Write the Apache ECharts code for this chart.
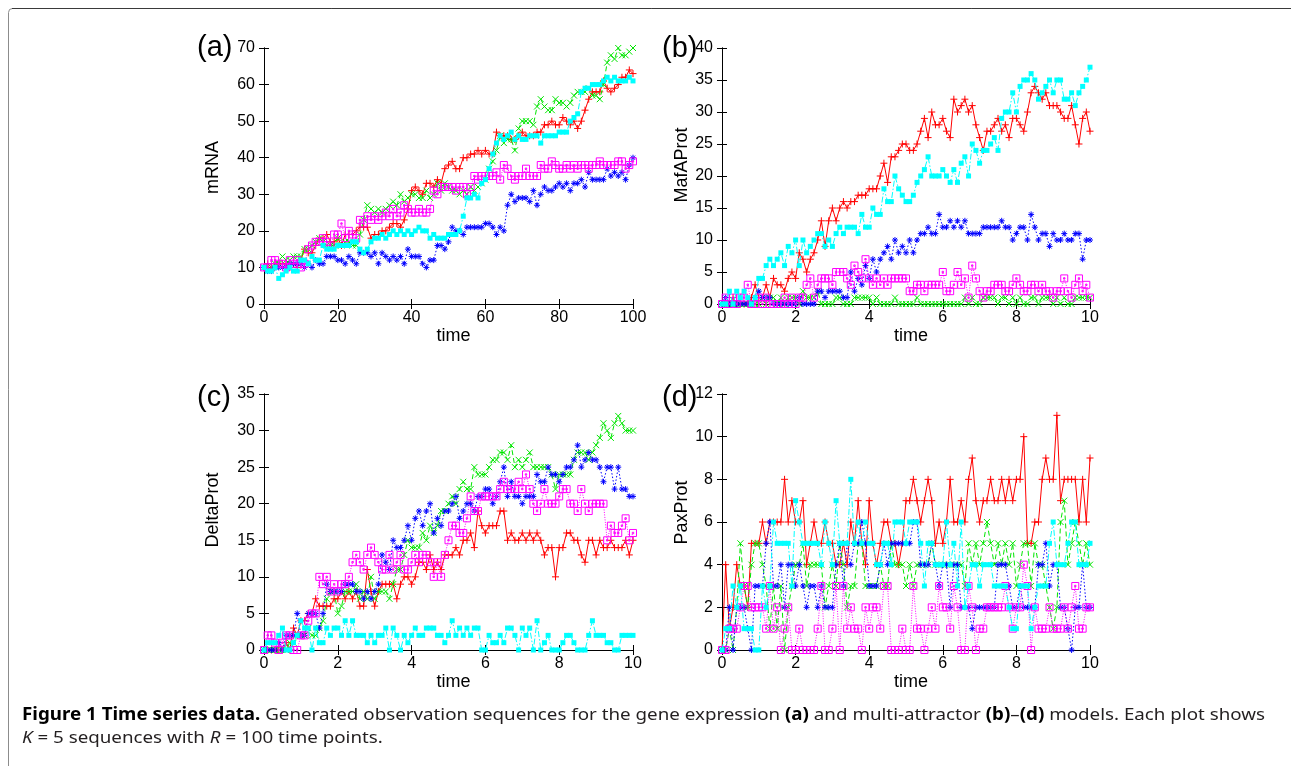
<!DOCTYPE html>
<html><head><meta charset="utf-8">
<script src="https://cdn.jsdelivr.net/npm/echarts@6/dist/echarts.min.js"></script>
<style>html,body{margin:0;padding:0;background:#fff}#c{width:1291px;height:766px}</style>
</head><body><div id="c"></div>
<script>
// ---------- data ----------
const panelLabels = ['(a)', '(b)', '(c)', '(d)'];
const yNames = ['mRNA', 'MafAProt', 'DeltaProt', 'PaxProt'];
const xName = 'time';
const xMax = [100, 10, 10, 10];
const xInterval = [20, 2, 2, 2];
const xStep = [1, 0.1, 0.1, 0.1];
const yMax = [70, 40, 35, 12];
const yInterval = [10, 5, 5, 2];

// panel (a) mRNA
const aRed = [10,11,10,11,11,11,11,10,11,10, 12,15,14,14,16,18,18,19,17,17, 18,16,19,19,19,20,21,21,21,18, 19,19,20,20,21,22,22,21,23,26, 31,32,31,30,33,33,32,34,33,37, 38,39,37,37,40,40,41,41,42,41, 42,41,41,47,46,46,46,45,45,46, 47,46,46,46,47,47,49,49,50,49, 49,51,50,49,50,48,50,53,56,58, 58,58,61,59,58,59,60,62,62,64, 63];
const aGreen = [10,10,10,11,11,13,12,12,13,13, 13,15,15,16,17,18,17,16,16,16, 18,16,17,17,16,16,19,23,27,26, 25,26,25,26,27,28,27,30,28,29, 30,30,29,29,31,29,30,33,31,33, 32,31,31,30,31,30,32,31,32,33, 34,37,39,42,46,44,45,45,42,48, 50,50,50,49,54,56,54,53,53,56, 55,55,54,55,57,58,58,58,59,57, 57,56,60,66,68,67,70,68,68,69, 70];
const aBlue = [10,9,9,10,10,10,10,11,11,11, 11,10,11,10,12,11,11,13,13,13, 12,12,11,13,12,11,14,14,14,13, 14,11,14,13,12,13,12,13,11,15, 13,13,13,11,10,12,12,16,16,15, 17,21,20,20,19,21,21,21,21,21, 22,22,21,19,21,20,27,30,28,29, 29,29,28,31,27,30,32,31,31,32, 33,32,33,31,33,33,34,32,36,34, 34,34,34,37,35,36,35,36,34,38, 40];
const aMagenta = [10,10,12,12,11,11,10,12,11,12, 10,11,15,16,17,17,18,17,16,19, 19,22,18,20,19,18,23,22,24,23, 24,23,24,25,24,26,24,25,27,26, 25,25,26,25,25,26,31,30,32,32, 32,32,31,32,32,30,32,35,34,35, 35,35,35,36,34,38,37,35,34,35, 35,37,35,35,35,38,37,37,39,38, 37,37,38,37,38,37,38,38,37,38, 38,39,38,38,38,38,39,39,37,38, 39];
const aCyan = [10,9,9,10,7,8,9,10,9,9, 12,12,11,13,12,12,16,15,15,15, 16,16,16,16,17,17,15,14,15,17, 18,18,19,18,19,20,19,20,19,20, 19,20,21,20,20,18,19,18,18,18, 19,19,19,20,24,29,29,30,29,33, 34,37,41,44,46,45,46,47,45,46, 45,45,46,46,46,44,46,46,46,46, 47,47,47,50,51,52,58,59,59,60, 60,60,61,62,61,62,61,61,61,62, 61];

// panel (b) MafAProt
const bRed = [0,0,0,1,0,0,0,0,1,3, 1,1,3,1,4,3,3,2,4,5, 4,8,7,5,7,8,10,13,9,13, 15,13,15,16,15,16,16,17,17,17, 18,18,18,20,22,19,23,23,24,25, 25,24,24,25,27,29,26,30,28,28, 29,27,26,32,30,31,32,30,31,28, 26,24,27,27,28,29,27,28,26,29, 29,28,27,30,33,34,33,32,33,31, 31,31,30,29,29,31,28,25,29,30, 27];
const bGreen = [0,0,0,0,0,0,0,0,0,0, 0,1,0,1,1,0,1,0,1,1, 1,0,2,1,1,1,2,0,0,0, 0,1,1,0,0,0,1,1,1,1, 1,0,1,0,0,0,0,1,0,0, 0,0,0,1,0,0,0,0,0,0, 0,0,0,0,0,0,1,0,1,0, 0,1,1,1,1,0,1,1,0,1, 0,1,0,0,1,1,0,1,1,1, 0,1,0,1,0,0,1,1,1,1, 1];
const bBlue = [0,1,0,0,0,0,0,0,0,1, 2,1,1,1,0,0,0,0,0,0, 0,1,0,0,0,0,2,2,1,2, 2,2,2,1,1,5,2,4,3,6, 4,7,5,7,8,9,7,10,8,9, 8,10,8,10,11,11,12,11,11,14, 12,12,13,12,13,12,13,11,11,11, 11,12,12,12,12,12,13,12,12,10, 11,12,12,10,14,12,10,11,11,9, 11,10,10,11,10,10,11,11,7,10, 10];
const bMagenta = [0,1,0,1,0,1,1,3,0,0, 1,0,1,0,0,0,0,1,0,1, 0,1,1,3,4,1,3,4,4,4, 3,5,5,5,4,3,6,5,4,7, 4,3,4,3,4,3,4,4,4,4, 4,2,2,3,3,2,3,3,3,3, 5,2,2,3,5,3,4,1,6,4, 2,1,2,2,3,3,3,2,2,3, 4,3,2,2,3,3,2,3,2,2, 1,2,2,4,2,1,3,4,2,3, 1];
const bCyan = [0,0,2,0,2,1,2,1,0,1, 4,4,6,7,6,7,8,6,9,8, 10,6,10,8,9,10,11,11,9,10, 9,11,12,11,12,12,12,11,14,12, 12,15,14,14,18,16,16,20,18,17, 16,16,17,19,20,21,23,20,20,20, 21,20,19,21,19,22,23,20,25,24, 22,24,24,25,26,24,29,30,30,33, 30,34,35,35,36,35,32,33,34,35, 33,35,35,32,32,33,31,33,34,35, 37];

// panel (c) DeltaProt
const cRed = [0,0,0,0,0,0,1,0,3,2, 4,4,5,5,7,6,6,6,6,7, 7,8,7,8,7,8,6,6,11,8, 6,8,9,9,9,9,7,9,10,10, 9,10,12,12,11,13,11,12,11,13, 13,13,14,13,15,15,16,14,19,17, 16,17,17,17,19,19,15,16,15,15, 16,15,16,15,16,15,13,14,14,10, 14,14,16,16,15,15,13,12,15,15, 13,15,14,14,15,14,14,14,15,13, 15];
const cGreen = [0,0,0,0,0,0,0,1,1,2, 2,2,3,2,2,3,4,7,8,8, 5,6,8,8,8,9,7,8,7,10, 7,8,8,8,7,9,11,11,13,15, 14,14,14,16,15,17,16,17,19,19, 20,21,20,22,23,22,22,25,24,24, 24,25,26,26,27,27,26,28,25,26, 25,26,27,25,25,25,25,25,24,22, 24,24,24,24,26,27,27,27,26,27, 28,29,31,30,29,31,32,31,30,30, 30];
const cBlue = [0,0,0,0,1,0,2,2,2,5, 2,2,5,5,5,3,5,9,8,8, 8,8,9,9,9,8,8,7,8,7, 8,9,13,12,11,15,14,14,15,17, 15,18,19,17,19,20,16,18,17,19, 19,20,21,18,19,20,20,19,21,21, 22,22,20,21,23,25,21,23,21,21, 20,21,21,21,24,23,23,25,24,24, 23,24,25,25,26,28,25,26,27,26, 26,25,23,25,25,22,25,22,22,21, 21];
const cMagenta = [0,2,2,1,0,1,2,2,0,0, 2,2,4,5,5,10,9,10,8,9, 8,9,9,10,12,13,12,11,13,14, 13,12,11,11,13,11,12,13,11,11, 12,13,12,13,13,12,10,12,10,13, 15,17,17,16,16,18,21,19,19,21, 21,21,21,21,22,23,22,22,22,23, 22,24,22,20,19,20,22,20,20,20, 21,22,22,20,20,19,22,20,19,20, 20,20,20,15,17,16,16,17,18,15, 16];
const cCyan = [0,1,1,1,2,3,0,0,1,2, 4,3,3,0,3,1,1,3,2,3, 3,2,4,2,4,2,2,2,1,2, 1,2,2,3,0,3,2,0,2,1, 2,3,2,2,3,3,3,2,2,1, 2,4,2,3,2,3,2,3,3,0, 0,2,1,1,2,1,3,3,2,0, 3,2,3,0,4,0,1,2,0,0, 0,1,2,2,1,0,0,0,2,4, 2,2,2,1,1,0,0,2,2,2, 2];

// panel (d) PaxProt
const dRed = [0,4,1,2,4,3,3,2,5,5, 5,6,5,6,6,6,6,8,6,7, 6,6,7,4,5,6,5,5,6,5, 5,4,4,5,4,6,5,7,5,4, 7,5,4,5,6,6,5,5,4,5, 7,7,8,7,6,7,8,7,5,6, 5,6,8,6,6,7,6,8,9,7, 6,7,7,8,7,7,8,7,8,7, 8,8,10,5,5,6,6,8,9,8, 8,11,7,8,8,8,8,6,8,6, 9];
const dGreen = [0,0,1,0,2,5,3,2,4,5, 5,4,3,1,3,1,3,0,2,3, 4,4,5,3,4,4,4,4,2,3, 4,3,5,4,2,3,3,5,5,3, 3,3,3,4,3,3,5,4,4,4, 3,4,3,4,4,4,4,5,4,4, 4,4,4,4,4,4,3,5,4,5, 4,5,6,5,4,5,4,5,4,5, 3,4,5,5,3,5,4,4,3,2, 1,2,6,7,4,5,6,5,4,5, 4];
const dBlue = [0,0,2,0,2,2,2,1,0,3, 3,3,5,6,3,3,4,2,4,4, 3,4,3,2,3,3,2,3,2,2, 2,4,5,3,5,4,5,5,6,5, 3,3,3,4,5,4,5,5,5,5, 5,5,6,6,4,4,4,5,4,3, 4,4,2,4,4,2,2,2,1,2, 2,2,2,2,2,4,4,4,3,2, 2,3,2,2,2,2,4,4,5,3, 4,4,2,2,1,0,2,2,4,2, 2];
const dMagenta = [0,0,1,1,1,2,3,3,2,2, 2,2,1,3,1,2,0,1,2,0, 0,1,0,0,0,0,1,3,0,0, 1,3,0,3,1,2,1,1,0,2, 1,2,2,1,3,3,0,0,0,1, 0,0,3,1,1,0,1,2,1,3, 2,2,1,3,2,0,0,3,2,0, 1,1,2,2,2,2,2,3,2,1, 2,2,4,3,0,2,1,1,1,2, 1,1,1,2,1,2,3,1,1,2, 2];
const dCyan = [0,1,1,3,2,3,1,1,1,0, 0,3,2,3,6,5,5,5,5,3, 7,6,5,5,5,5,5,4,6,5, 4,7,5,5,5,8,5,6,5,6, 5,5,4,4,5,5,4,6,6,6, 5,6,6,6,5,3,5,5,4,4, 4,6,4,5,3,6,2,3,4,4, 3,4,4,4,3,3,3,3,2,1, 1,3,3,3,1,2,3,3,3,5, 6,4,4,4,5,6,6,4,4,4, 5];

const panels = [
  [aRed, aGreen, aBlue, aMagenta, aCyan],
  [bRed, bGreen, bBlue, bMagenta, bCyan],
  [cRed, cGreen, cBlue, cMagenta, cCyan],
  [dRed, dGreen, dBlue, dMagenta, dCyan]
];

// ---------- styling / layout ----------
const FONT = '"Liberation Sans", Arial, Helvetica, sans-serif';
const grids = [
  {left: 264, top: 48, width: 369, height: 256},
  {left: 722, top: 48, width: 368, height: 256},
  {left: 264, top: 394, width: 369, height: 256},
  {left: 722, top: 394, width: 368, height: 256}
];
const yNameGap = [42, 31, 42, 31];
const yNameShift = [17, 22, 24, 19];
const labelPos = [[197, 48], [662, 49], [197, 398], [662, 398]];

const plusSym = 'path://M5,0L5,10M0,5L10,5';
const crossSym = 'path://M0,0L10,10M0,10L10,0';
const starSym = 'path://M5,0L5,10M0,5L10,5M1.5,1.5L8.5,8.5M1.5,8.5L8.5,1.5';
const boxSym = 'path://M0,0L10,0L10,10L0,10ZM4,4L6,4L6,6L4,6Z';
const seriesStyles = [
  {color: '#ff0000', dash: 'solid', symbol: plusSym, stroke: true, size: 7},
  {color: '#00e600', dash: [5, 3], symbol: crossSym, stroke: true, size: 6},
  {color: '#0000ff', dash: [1.5, 2], symbol: starSym, stroke: true, size: 6},
  {color: '#ff00ff', dash: [1, 1.5], symbol: boxSym, stroke: true, size: 7},
  {color: '#00ffff', dash: [6, 2, 1.5, 2], symbol: 'rect', stroke: false, size: 5}
];

const xAxes = [], yAxes = [], series = [], graphics = [];
const axisLineBlack = {show: true, lineStyle: {color: '#000', width: 1}};
grids.forEach((g, gi) => {
  const tick = {show: true, inside: true, length: 5, lineStyle: {color: '#000'}};
  xAxes.push({
    type: 'value', gridIndex: gi, position: 'bottom', min: 0, max: xMax[gi], interval: xInterval[gi],
    axisLine: axisLineBlack, axisTick: tick, splitLine: {show: false},
    axisLabel: {color: '#000', fontSize: 16, fontFamily: FONT, margin: 6},
    name: xName, nameLocation: 'middle', nameGap: 23,
    nameTextStyle: {color: '#000', fontSize: 18, fontFamily: FONT, padding: [0, 0, 0, 10]}
  });
  xAxes.push({
    type: 'value', gridIndex: gi, position: 'top', min: 0, max: xMax[gi], interval: xInterval[gi],
    axisLine: axisLineBlack, axisTick: tick, splitLine: {show: false}, axisLabel: {show: false}
  });
  yAxes.push({
    type: 'value', gridIndex: gi, position: 'left', min: 0, max: yMax[gi], interval: yInterval[gi],
    axisLine: axisLineBlack, axisTick: tick, splitLine: {show: false},
    axisLabel: {color: '#000', fontSize: 16, fontFamily: FONT, margin: 9},
    name: yNames[gi], nameLocation: 'middle', nameGap: yNameGap[gi],
    nameTextStyle: {color: '#000', fontSize: 18, fontFamily: FONT, padding: [0, 0, 0, yNameShift[gi]]}
  });
  yAxes.push({
    type: 'value', gridIndex: gi, position: 'right', min: 0, max: yMax[gi], interval: yInterval[gi],
    axisLine: axisLineBlack, axisTick: tick, splitLine: {show: false}, axisLabel: {show: false}
  });
  panels[gi].forEach((vals, si) => {
    const st = seriesStyles[si];
    series.push({
      type: 'line', xAxisIndex: gi * 2, yAxisIndex: gi * 2,
      data: vals.map((v, i) => [+(i * xStep[gi]).toFixed(2), v]),
      symbol: st.symbol, symbolSize: st.size, showSymbol: true,
      lineStyle: {color: st.color, width: 1, type: st.dash},
      itemStyle: st.stroke
        ? {color: 'rgba(0,0,0,0)', borderColor: st.color, borderWidth: 1}
        : {color: st.color, borderWidth: 0},
      emphasis: {disabled: true}, z: 2 + si, silent: true
    });
  });
  graphics.push({
    type: 'text', x: labelPos[gi][0], y: labelPos[gi][1],
    style: {text: panelLabels[gi], fontSize: 29, fontFamily: FONT, fill: '#000', verticalAlign: 'middle', align: 'left'}
  });
});

// ---------- caption ----------
const capSize = 17, capFont = '"Noto Sans", "Open Sans", sans-serif';
const line1 = [
  ['b', 'Figure 1 Time series data.'], ['n', ' Generated observation sequences for the gene expression '],
  ['b', '(a)'], ['n', ' and multi-attractor '], ['b', '(b)'], ['n', '–'], ['b', '(d)'],
  ['n', ' models. Each plot shows']
];
const line2 = [['i', 'K'], ['n', ' = 5 sequences with '], ['i', 'R'], ['n', ' = 100 time points.']];
const ctx = document.createElement('canvas').getContext('2d');
function segW(seg) {
  const w = seg[0] === 'b' ? 'bold' : 'normal', s = seg[0] === 'i' ? 'italic' : 'normal';
  ctx.font = s + ' ' + w + ' ' + capSize + 'px ' + capFont;
  return ctx.measureText(seg[1]).width;
}
const w1 = line1.reduce((a, s) => a + segW(s), 0);
const capScale = 1243 / w1;
const rich = {
  b: {fontWeight: 'bold', fontSize: capSize, fontFamily: capFont, fill: '#000'},
  n: {fontSize: capSize, fontFamily: capFont, fill: '#231f20'},
  i: {fontStyle: 'italic', fontSize: capSize, fontFamily: capFont, fill: '#231f20'}
};
const toRich = segs => segs.map(s => '{' + s[0] + '|' + s[1] + '}').join('');
graphics.push({type: 'text', x: 22, y: 715, scaleX: capScale,
  style: {text: toRich(line1), rich: rich, fontSize: capSize, fontFamily: capFont, verticalAlign: 'middle', align: 'left'}});
graphics.push({type: 'text', x: 22, y: 738, scaleX: capScale,
  style: {text: toRich(line2), rich: rich, fontSize: capSize, fontFamily: capFont, verticalAlign: 'middle', align: 'left'}});
// figure frame: rounded box whose right/bottom sides lie outside the page
graphics.push({type: 'rect', shape: {x: 8.5, y: 8.5, width: 1300, height: 800, r: 4},
  style: {fill: 'none', stroke: '#8c8c8c', lineWidth: 1}, z: -1});
graphics.push({type: 'line', shape: {x1: 12, y1: 8.5, x2: 1291, y2: 8.5},
  style: {stroke: '#3a3a3a', lineWidth: 1}, z: -1});

const chart = echarts.init(document.getElementById('c'), null, {renderer: 'canvas'});
chart.setOption({
  animation: false,
  backgroundColor: '#fff',
  grid: grids.map(g => Object.assign({}, g, {show: false})),
  xAxis: xAxes, yAxis: yAxes, series: series, graphic: graphics
});
</script></body></html>
